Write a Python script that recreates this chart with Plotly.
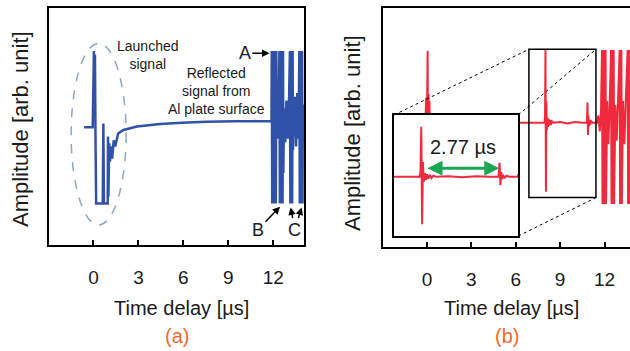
import plotly.graph_objects as go

# ---------------- data ----------------
# Panel (a): launched + reflected signal (blue)
a_time = [-0.62, -0.05, 0.03, 0.07, 0.10, 0.14, 0.18, 0.62, 0.66, 0.70, 0.95, 0.97, 1.00,
          1.05, 1.10, 1.20, 1.25, 1.35, 1.45, 1.65, 2.00, 2.90, 4.45, 5.90, 7.50, 9.50, 11.88,
          11.90, 11.93, 11.96, 11.99, 12.02, 12.05, 12.08, 12.11, 12.14, 12.17, 12.20,
          12.24, 12.30, 12.36,
          12.41, 12.44, 12.47, 12.50, 12.53, 12.56, 12.59, 12.62, 12.65, 12.67,
          12.72, 12.80, 12.88, 12.96, 13.04,
          13.11, 13.14, 13.17, 13.20, 13.23, 13.26, 13.29, 13.31,
          13.37, 13.45, 13.52, 13.60, 13.68,
          13.74, 13.77, 13.80, 13.83, 13.86, 13.89, 13.92, 13.95, 13.97, 14.01, 14.06]
a_amp = [0.0, 0.0, 1.0, 0.5, 0.95, -0.2, -1.0, -1.0, 0.05, -1.0, -1.0, -0.12, -0.91,
         -0.21, -0.45, -0.25, -0.41, -0.17, -0.25, -0.08, -0.035, 0.01, 0.043, 0.06, 0.073, 0.078, 0.08,
         1.0, -1.0, 1.0, -1.0, 1.0, -1.0, 1.0, -1.0, 1.0, -1.0, 1.0,
         0.2, -0.15, 0.12,
         1.0, -1.0, 1.0, -1.0, 1.0, -1.0, 1.0, -1.0, 1.0, -0.6,
         0.25, -0.2, 0.35, -0.15, 0.2,
         1.0, -1.0, 1.0, -1.0, 1.0, -1.0, 1.0, -0.3,
         0.2, 0.4, -0.25, 0.45, -0.15,
         1.0, -1.0, 1.0, -1.0, 1.0, -1.0, 1.0, -1.0, 0.3, -0.2, 0.2]

# Panel (b): signal (red)
b_time = [-1.0, -0.10, -0.05, -0.02, 0.02, 0.05, 0.08, 0.11, 0.14, 0.17, 0.20, 0.25, 0.30, 0.40,
          7.95, 7.98, 8.01, 8.04, 8.07, 8.10, 8.14, 8.18, 8.22, 8.27, 8.32, 8.38, 8.45, 8.55,
          9.00, 9.50, 10.00, 10.50, 10.80,
          10.82, 10.85, 10.88, 10.91, 10.94, 10.98, 11.03, 11.10, 11.20, 11.50,
          11.58, 11.68, 11.76,
          11.83, 11.86, 11.89, 11.92, 11.95, 11.98, 12.01, 12.04, 12.07, 12.10,
          12.18, 12.26, 12.34,
          12.44, 12.47, 12.50, 12.53, 12.56, 12.59, 12.62, 12.65,
          12.73, 12.82, 12.91,
          13.02, 13.05, 13.08, 13.11, 13.14, 13.17,
          13.25, 13.34, 13.44,
          13.56, 13.59, 13.62, 13.65, 13.68, 13.71, 13.74]
b_amp = [0.0, 0.0, 0.35, -0.4, 0.38, 1.0, -1.0, 0.4, -0.35, 0.3, -0.1, 0.05, -0.03, 0.0,
         0.0, 0.1, 1.01, -0.96, 0.3, -0.1, 0.07, -0.06, 0.05, -0.04, 0.04, -0.03, 0.02, 0.0,
         0.01, -0.01, 0.01, 0.0, 0.0,
         0.05, 0.28, -0.17, 0.1, -0.05, 0.04, -0.03, 0.02, 0.0, 0.0,
         0.1, -0.12, 0.15,
         1.01, -1.13, 1.01, -1.13, 1.01, -1.13, 1.01, -1.13, 1.01, -1.13,
         0.3, -0.3, 0.2,
         1.01, -1.13, 1.01, -1.13, 1.01, -1.13, 1.01, -1.13,
         0.25, -0.25, 0.3,
         1.01, -1.13, 1.01, -1.13, 1.01, -1.13,
         0.3, -0.3, 0.35,
         1.01, -1.13, 1.01, -1.13, 1.01, -1.13, 1.01]

tick_vals = [0, 3, 6, 9, 12]
tick_text = ["0", "3", "6", "9", "12"]

x_title = "Time delay [µs]"
y_title = "Amplitude [arb. unit]"
inset_label = "2.77 µs"

# ---------------- layout geometry ----------------
W, H = 630, 351
FONT = "Liberation Sans, Arial, Helvetica, sans-serif"
BLUE = "#2f52a8"
RED = "#ee2a3c"
ORANGE = "#f26b2f"
GREEN = "#1ca552"
TXT = "#1a1a1a"

xa_dom = [48.5 / W, 304 / W]
ya_dom = [1 - 245 / H, 1 - 8 / H]
xa_rng = [-3.0, 14.05]
ya_rng = [-1.543, 1.564]

xb_dom = [382.5 / W, 1.0]
yb_dom = [1 - 247 / H, 1 - 8 / H]
xb_rng = [-3.0, 13.72]
yb_rng = [-1.726, 1.593]

xi_dom = [394 / W, 518.3 / W]
yi_dom = [1 - 236 / H, 1 - 115 / H]
xi_rng = [7.02, 11.53]
yi_rng = [-1.2, 1.25]

zoom_box_t = [6.89, 11.42]
zoom_box_a = [-1.04, 1.02]


def px(t, dom, rng):
    return dom[0] + (t - rng[0]) / (rng[1] - rng[0]) * (dom[1] - dom[0])


fig = go.Figure()
fig.add_trace(go.Scatter(x=a_time, y=a_amp, mode="lines", xaxis="x", yaxis="y",
                         line=dict(color=BLUE, width=2.5, simplify=False), showlegend=False))
fig.add_trace(go.Scatter(x=b_time, y=b_amp, mode="lines", xaxis="x2", yaxis="y2",
                         line=dict(color=RED, width=2, simplify=False), showlegend=False))
fig.add_trace(go.Scatter(x=b_time, y=b_amp, mode="lines", xaxis="x3", yaxis="y3",
                         line=dict(color=RED, width=2, simplify=False), showlegend=False))

frame = dict(showline=True, linecolor="black", linewidth=1.5, showgrid=False, zeroline=False)
xcommon = dict(frame, tickmode="array", tickvals=tick_vals, ticktext=tick_text, ticks="inside",
               ticklen=5, tickwidth=1.5, tickcolor="black", ticklabelstandoff=14,
               tickfont=dict(family=FONT, size=19, color=TXT))
fig.update_layout(
    width=W, height=H, margin=dict(l=0, r=0, t=0, b=0),
    paper_bgcolor="white", plot_bgcolor="white",
    xaxis=dict(xcommon, domain=xa_dom, range=xa_rng, anchor="y", mirror=True),
    yaxis=dict(frame, domain=ya_dom, range=ya_rng, anchor="x", mirror=True,
               showticklabels=False, ticks=""),
    xaxis2=dict(xcommon, domain=xb_dom, range=xb_rng, anchor="y2", mirror=True),
    yaxis2=dict(frame, domain=yb_dom, range=yb_rng, anchor="x2", mirror=False,
                showticklabels=False, ticks=""),
    xaxis3=dict(frame, domain=xi_dom, range=xi_rng, anchor="y3", mirror=True,
                showticklabels=False, ticks=""),
    yaxis3=dict(frame, domain=yi_dom, range=yi_rng, anchor="x3", mirror=True,
                showticklabels=False, ticks=""),
)

shapes = []
# dashed ellipse around launched signal
shapes.append(dict(type="circle", xref="x", yref="y", x0=-1.49, x1=2.18, y0=-1.28, y1=1.10,
                   line=dict(color="#8ea6bf", width=1.5, dash="dash")))
# zoom box on main (b) axis
shapes.append(dict(type="rect", xref="x2", yref="y2", x0=zoom_box_t[0], x1=zoom_box_t[1],
                   y0=zoom_box_a[0], y1=zoom_box_a[1], line=dict(color="black", width=1.5)))
# connector lines (paper coords computed through the axis scales)
bx0 = px(zoom_box_t[0], xb_dom, xb_rng)
bx1 = px(zoom_box_t[1], xb_dom, xb_rng)
by0 = px(zoom_box_a[0], yb_dom, yb_rng)
by1 = px(zoom_box_a[1], yb_dom, yb_rng)
for (x0, y0, x1, y1) in [(xi_dom[0], yi_dom[1], bx0, by1),
                         (xi_dom[1], yi_dom[1], bx1, by1),
                         (xi_dom[1], yi_dom[0], bx1, by0)]:
    shapes.append(dict(type="line", xref="paper", yref="paper", x0=x0, y0=y0, x1=x1, y1=y1,
                       line=dict(color="black", width=1, dash="dot")))
fig.update_layout(shapes=shapes)

ann = []
def txt(s, size, color=TXT, **kw):
    d = dict(text=s, showarrow=False, font=dict(family=FONT, size=size, color=color))
    d.update(kw)
    return d

# axis titles & panel labels
ann.append(txt(x_title, 20, xref="paper", yref="paper", x=181 / W, y=1 - 308 / H,
               xanchor="center", yanchor="middle"))
ann.append(txt(x_title, 20, xref="paper", yref="paper", x=511 / W, y=1 - 308 / H,
               xanchor="center", yanchor="middle"))
ann.append(txt(y_title, 22, xref="paper", yref="paper", x=20 / W, y=1 - 129 / H,
               xanchor="center", yanchor="middle", textangle=-90))
ann.append(txt(y_title, 22, xref="paper", yref="paper", x=352 / W, y=1 - 133 / H,
               xanchor="center", yanchor="middle", textangle=-90))
ann.append(txt("(a)", 20, ORANGE, xref="paper", yref="paper", x=176.7 / W, y=1 - 336 / H,
               xanchor="center", yanchor="middle"))
ann.append(txt("(b)", 20, ORANGE, xref="paper", yref="paper", x=507 / W, y=1 - 336 / H,
               xanchor="center", yanchor="middle"))

# panel (a) labels
ann.append(txt("Launched<br>signal", 14, xref="x", yref="y", x=3.67, y=0.95,
               xanchor="center", yanchor="middle"))
ann.append(txt("Reflected<br>signal from<br>Al plate surface", 14, xref="x", yref="y",
               x=8.23, y=0.48, xanchor="center", yanchor="middle"))

def arrow_lbl(s, tx, ty, hx, hy, color=TXT):
    return dict(text=s, xref="x", yref="y", axref="x", ayref="y", x=hx, y=hy, ax=tx, ay=ty,
                showarrow=True, arrowhead=2, arrowsize=1, arrowwidth=1.5, arrowcolor="black",
                standoff=0, startstandoff=0, font=dict(family=FONT, size=18, color=color))

ann.append(arrow_lbl("A", 10.1, 0.97, 11.75, 0.97))
ann.append(arrow_lbl("B", 10.98, -1.34, 12.45, -1.04))
ann.append(arrow_lbl("C", 13.44, -1.34, 13.16, -1.05))
ann.append(arrow_lbl("C", 13.44, -1.34, 13.89, -1.05, color="rgba(0,0,0,0)"))

# inset label and double arrow
ann.append(txt(inset_label, 20, xref="x3", yref="y3", x=9.53, y=0.61,
               xanchor="center", yanchor="middle"))
ann.append(dict(text="", xref="x3", yref="y3", axref="x3", ayref="y3", x=10.84, y=0.17,
                ax=8.18, ay=0.17, showarrow=True, arrowhead=2, startarrowhead=2,
                arrowside="end+start", arrowsize=1, startarrowsize=1, arrowwidth=3,
                arrowcolor=GREEN, standoff=0, startstandoff=0))
fig.update_layout(annotations=ann)

fig.write_html("out.html", config={"displayModeBar": False},
               post_script="document.body.style.margin='0px';document.body.style.overflow='hidden';")
